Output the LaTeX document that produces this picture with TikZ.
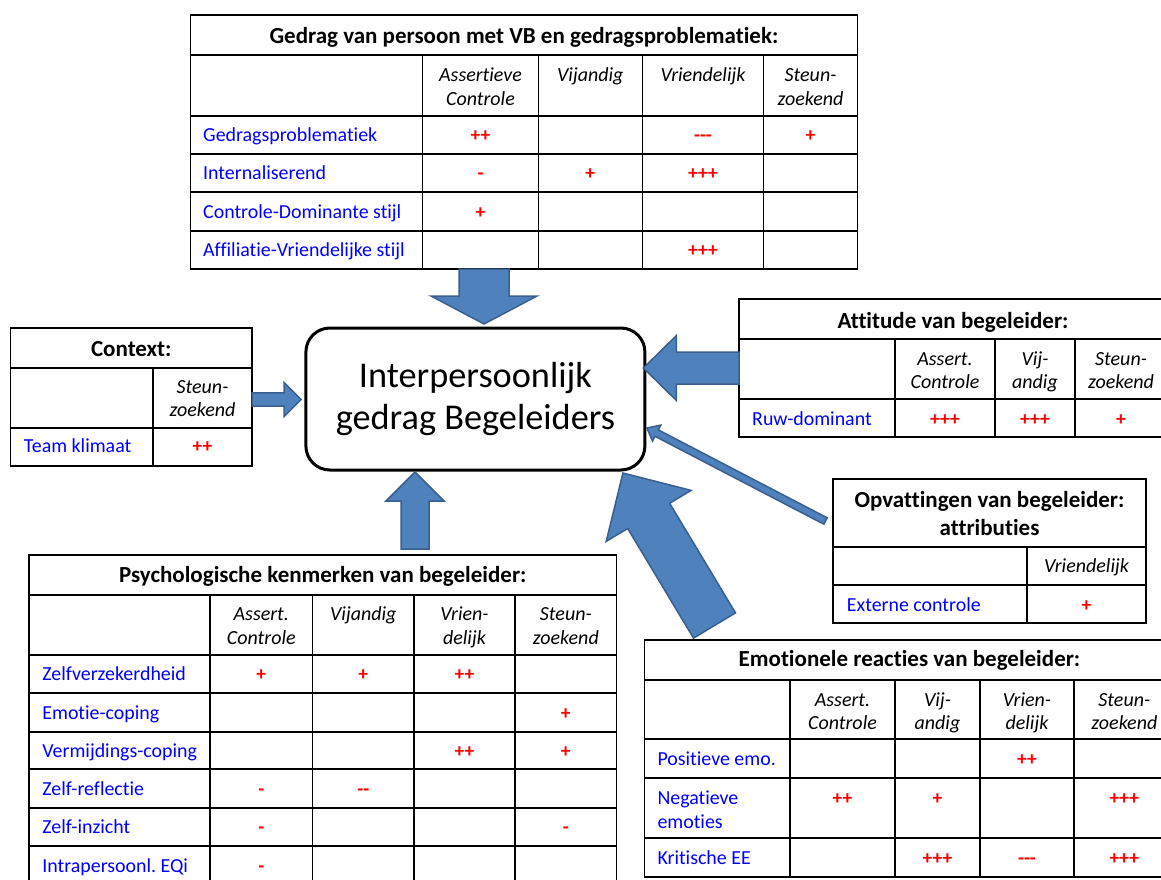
\documentclass[tikz,border=0pt]{standalone}
\usepackage{fontspec}
\setmainfont{Carlito}[Ligatures=NoCommon]
\usepackage{tikz}
\usetikzlibrary{calc}

\definecolor{pijlblauw}{HTML}{4F81BD}
\definecolor{pijlrand}{HTML}{3A5F8E}
\definecolor{labelblauw}{HTML}{0000FF}
\definecolor{scorerood}{HTML}{FF0000}

% blokpijl: staart, punt, halve schacht, halve kop, koplengte
\newcommand{\blokpijl}[5]{%
  \coordinate (bpKop) at ($(#2)!#5!(#1)$);
  \draw[blok] ($(#1)!#3!90:(#2)$) -- ($(bpKop)!#3!90:(#2)$) -- ($(bpKop)!#4!90:(#2)$) -- (#2)
    -- ($(bpKop)!#4!-90:(#2)$) -- ($(bpKop)!#3!-90:(#2)$) -- ($(#1)!#3!-90:(#2)$) -- cycle;}

\begin{document}
\frenchspacing
\begin{tikzpicture}[x=1pt, y=-1pt,
  tbl/.style={draw, line width=1.2pt, anchor=north west, inner sep=0pt, outer sep=0pt},
  lijn/.style={line width=1.2pt},
  ttl/.style={font=\fontsize{23}{28.3}\selectfont\bfseries, align=center, anchor=base, inner sep=0pt},
  kop/.style={font=\fontsize{20}{23.5}\selectfont\itshape, align=center, anchor=base, inner sep=0pt},
  lbl/.style={font=\fontsize{19.9}{24}\selectfont, text=labelblauw, align=left, anchor=base west, inner sep=0pt},
  val/.style={font=\fontsize{19.5}{24}\selectfont\bfseries, text=scorerood, anchor=base, inner sep=0pt},
  kern/.style={draw, line width=3pt, rounded corners=24pt, minimum width=339pt, minimum height=142pt,
    align=center, outer sep=0pt, font=\fontsize{36.3}{42}\selectfont},
  blok/.style={fill=pijlblauw, draw=pijlrand, line width=1.5pt}
]
\useasboundingbox (0,0) rectangle (1161,879);

% kern
\node[kern] (kern) at (475.4,399) {Interpersoonlijk\\gedrag Begeleiders};

% gedrag van persoon (meerregelige teksten: y = basislijn laatste regel)
\node[tbl, minimum width=667pt, minimum height=254pt] (gedrag) at (190.5,15) {};
\foreach \y in {55,116,154,192,231} \draw[lijn] (190.5,\y) -- (857.5,\y);
\foreach \x in {422.8,538.2,642.3,763.7} \draw[lijn] (\x,55) -- (\x,269);
\node[ttl] (gedragT) at (524,43.5) {Gedrag van persoon met VB en gedragsproblematiek:};
\node[kop] (gAC) at (480.5,105.3) {Assertieve\\Controle};
\node[kop] (gVij) at (590.3,81.8) {Vijandig};
\node[kop] (gVri) at (703,81.8) {Vriendelijk};
\node[kop] (gSt) at (810.5,105.3) {Steun-\\zoekend};
\foreach \t/\y [count=\i] in {Gedragsproblematiek/141, Internaliserend/179.5,
    Controle-Dominante stijl/218, Affiliatie-Vriendelijke stijl/256}
  \node[lbl] (gR\i) at (203,\y) {\t};
\foreach \x/\y/\v [count=\i] in {480.5/141/++, 703/141/-\kern0pt-\kern0pt-, 810.5/141/+,
    480.5/179.5/-, 590.3/179.5/+, 703/179.5/+++, 480.5/218/+, 703/256/+++}
  \node[val] (gV\i) at (\x,\y) {\v};

% context
\node[tbl, minimum width=241.5pt, minimum height=138pt] (ctx) at (10.5,328) {};
\draw[lijn] (10.5,368) -- (252,368);
\draw[lijn] (10.5,428) -- (252,428);
\draw[lijn] (153,368) -- (153,466);
\node[ttl] (ctxT) at (131.3,356.5) {Context:};
\node[kop] (cSt) at (202.5,416.7) {Steun-\\zoekend};
\node[lbl] (cR1) at (23.7,452.7) {Team klimaat};
\node[val] (cV1) at (202.5,452.7) {++};

% attitude
\node[tbl, minimum width=428pt, minimum height=138pt] (att) at (739,299) {};
\foreach \y in {339,399} \draw[lijn] (739,\y) -- (1167,\y);
\foreach \x in {895,995,1075} \draw[lijn] (\x,339) -- (\x,437);
\node[ttl] (attT) at (953,328) {Attitude van begeleider:};
\node[kop] (aAC) at (945,388.7) {Assert.\\Controle};
\node[kop] (aVij) at (1035,388.7) {Vij-\\andig};
\node[kop] (aSt) at (1121,388.7) {Steun-\\zoekend};
\node[lbl] (aR1) at (752,425.5) {Ruw-dominant};
\foreach \x/\v [count=\i] in {945/+++, 1035/+++, 1121/+}
  \node[val] (aV\i) at (\x,425.5) {\v};

% opvattingen
\node[tbl, minimum width=313pt, minimum height=144pt] (opv) at (833,479) {};
\foreach \y in {547,585} \draw[lijn] (833,\y) -- (1146,\y);
\draw[lijn] (1027,547) -- (1027,623);
\node[ttl] (opvT) at (989.5,535.3) {Opvattingen van begeleider:\\attributies};
\node[kop] (oVri) at (1086.5,572) {Vriendelijk};
\node[lbl] (oR1) at (846.7,611) {Externe controle};
\node[val] (oV1) at (1086.5,611) {+};

% psychologische kenmerken
\node[tbl, minimum width=587.5pt, minimum height=330pt] (psy) at (29,555) {};
\foreach \y in {595,655,693,732,769,808,846} \draw[lijn] (29,\y) -- (616.5,\y);
\foreach \x in {210,312.6,414,515} \draw[lijn] (\x,595) -- (\x,885);
\node[ttl] (psyT) at (322.8,582.5) {Psychologische kenmerken van begeleider:};
\node[kop] (pAC) at (261.3,644) {Assert.\\Controle};
\node[kop] (pVij) at (363.3,620.5) {Vijandig};
\node[kop] (pVri) at (464.5,644) {Vrien-\\delijk};
\node[kop] (pSt) at (565.8,644) {Steun-\\zoekend};
\foreach \t/\y [count=\i] in {Zelfverzekerdheid/680, Emotie-coping/719.3, Vermijdings-coping/757.7,
    Zelf-reflectie/795.3, Zelf-inzicht/833.7, Intrapersoonl. EQi/872}
  \node[lbl] (pR\i) at (42.2,\y) {\t};
\foreach \x/\y/\v [count=\i] in {261.3/680/+, 363.3/680/+, 464.5/680/++, 565.8/719.3/+,
    464.5/757.7/++, 565.8/757.7/+, 261.3/795.3/-, 363.3/795.3/-\kern0pt-,
    261.3/833.7/-, 565.8/833.7/-, 261.3/872/-}
  \node[val] (pV\i) at (\x,\y) {\v};

% emotionele reacties
\node[tbl, minimum width=530pt, minimum height=237pt] (emo) at (644.5,640) {};
\foreach \y in {680,739,778,838} \draw[lijn] (644.5,\y) -- (1174.5,\y);
\foreach \x in {790,895,980,1074} \draw[lijn] (\x,680) -- (\x,877);
\node[ttl] (emoT) at (909.5,666.5) {Emotionele reacties van begeleider:};
\node[kop] (eAC) at (842.5,729.5) {Assert.\\Controle};
\node[kop] (eVij) at (937.5,729.5) {Vij-\\andig};
\node[kop] (eVri) at (1027,729.5) {Vrien-\\delijk};
\node[kop] (eSt) at (1124.3,729.5) {Steun-\\zoekend};
\node[lbl] (eR1) at (657.3,765.3) {Positieve emo.};
\node[lbl] (eR2) at (657.3,828) {Negatieve\\emoties};
\node[lbl] (eR3) at (657.3,864.3) {Kritische EE};
\foreach \x/\y/\v [count=\i] in {1027/765.3/++, 842.5/804/++, 937.5/804/+, 1124.3/804/+++,
    937.5/864.3/+++, 1027/864.3/-\kern0pt-\kern0pt-, 1124.3/864.3/+++}
  \node[val] (eV\i) at (\x,\y) {\v};

% pijlen naar de kern
\coordinate (kTop) at ($(kern.north)+(8.6,-4)$);
\coordinate (kWest) at ($(kern.west)+(-4.8,0.5)$);
\coordinate (kEast) at ($(kern.east)+(-1.5,-31)$);
\coordinate (kBot) at ($(kern.south)+(-60.4,2)$);
\coordinate (kHoek) at ($(kern.south east)+(-22,3)$);
\coordinate (kRand) at ($(kern.east)+(2,29)$);
\coordinate (psyUit) at ($(psy.north -| kBot)+(0,-6)$);
\coordinate (opvUit) at ($(opv.west)+(-7.5,-30)$);
\coordinate (emoUit) at ($(emo.north west)+(70,-14.5)$);

\blokpijl{gedrag.south -| kTop}{kTop}{25pt}{53pt}{28pt}
\blokpijl{ctx.east |- kWest}{kWest}{6.7pt}{17pt}{17pt}
\blokpijl{att.west |- kEast}{kEast}{16pt}{32.5pt}{33pt}
\blokpijl{psyUit}{kBot}{14pt}{29pt}{29pt}
\blokpijl{opvUit}{kRand}{3.6pt}{9pt}{11pt}
\blokpijl{emoUit}{kHoek}{24.5pt}{49.5pt}{50pt}
\end{tikzpicture}
\end{document}
